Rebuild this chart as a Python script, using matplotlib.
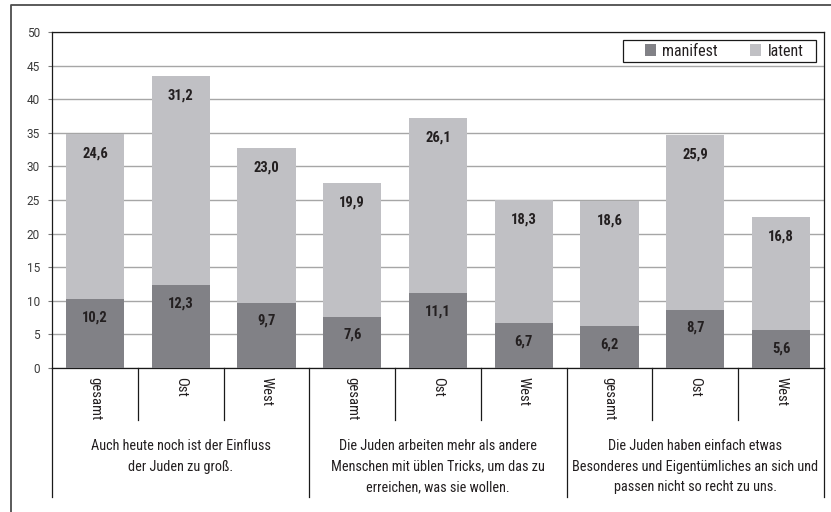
import numpy as np
import matplotlib
matplotlib.use("Agg")
import matplotlib.pyplot as plt
from matplotlib import font_manager as fm
from matplotlib.lines import Line2D
from matplotlib.patches import Patch, Rectangle
import matplotlib.transforms as mtransforms

# ---------------- data ----------------
subcats = ["gesamt", "Ost", "West", "gesamt", "Ost", "West", "gesamt", "Ost", "West"]
groups = [
    "Auch heute noch ist der Einfluss\nder Juden zu groß.",
    "Die Juden arbeiten mehr als andere\nMenschen mit üblen Tricks, um das zu\nerreichen, was sie wollen.",
    "Die Juden haben einfach etwas\nBesonderes und Eigentümliches an sich und\npassen nicht so recht zu uns.",
]
manifest = [10.2, 12.3, 9.7, 7.6, 11.1, 6.7, 6.2, 8.7, 5.6]
latent = [24.6, 31.2, 23.0, 19.9, 26.1, 18.3, 18.6, 25.9, 16.8]
yticks = [0, 5, 10, 15, 20, 25, 30, 35, 40, 45, 50]

# ---------------- font ----------------
names = {f.name for f in fm.fontManager.ttflist}
family = None
for cand in ["Roboto Condensed", "Liberation Sans Narrow", "Open Sans Condensed",
             "Noto Sans Condensed", "DejaVu Sans Condensed"]:
    if cand in names:
        family = cand
        break
stretch = "normal"
if family is None:
    cond = [f for f in fm.fontManager.ttflist
            if ("Condensed" in f.name or "Narrow" in f.name)]
    if cond:
        family = cond[0].name
    else:
        family = "DejaVu Sans"
        stretch = "condensed"
plt.rcParams["font.family"] = [family, "DejaVu Sans"]
plt.rcParams["font.stretch"] = stretch
REG = ["Roboto", "DejaVu Sans"]

C_MAN = "#818186"
C_LAT = "#c0c0c4"
C_GRID = "#a6a6a6"
TXT = "#231f20"

fig = plt.figure(figsize=(8.31, 5.12), dpi=100)
W, H = 831, 512
L, R, T, B = 52, 824, 32, 368
ax = fig.add_axes([L / W, 1 - B / H, (R - L) / W, (B - T) / H])

x = np.arange(len(subcats))
bw = 0.68
ax.bar(x, manifest, bw, color=C_MAN, zorder=3, label="manifest")
ax.bar(x, latent, bw, bottom=manifest, color=C_LAT, zorder=3, label="latent")

ax.set_xlim(-0.5, len(subcats) - 0.5)
ax.set_ylim(0, 50)
ax.set_yticks(yticks)
ax.set_yticklabels([str(v) for v in yticks], fontsize=8.5, color="#3a3a3a",
                   family=REG, stretch="normal")
ax.set_xticks([])
ax.yaxis.grid(True, color=C_GRID, linewidth=1.0, zorder=0)
ax.set_axisbelow(True)
ax.tick_params(axis="y", length=3, width=0.8, color="#7a7a7a", pad=5.8)
for s in ax.spines.values():
    s.set_color("#1a1a1a")
    s.set_linewidth(0.9)

# value labels
for i in range(len(x)):
    ax.annotate(f"{manifest[i]:.1f}".replace(".", ","), (x[i], manifest[i]),
                xytext=(0, -13), textcoords="offset points", ha="center", va="center",
                fontsize=10.5, fontweight="bold", color=TXT, zorder=5)
    top = manifest[i] + latent[i]
    ax.annotate(f"{latent[i]:.1f}".replace(".", ","), (x[i], top),
                xytext=(0, -14), textcoords="offset points", ha="center", va="center",
                fontsize=10.5, fontweight="bold", color=TXT, zorder=5)

# category axis
trans = mtransforms.blended_transform_factory(ax.transData, ax.transAxes)
ah = B - T
y_sub = -(420 - B) / ah
y_grp = -(497 - B) / ah
for k in range(len(subcats) + 1):
    xe = k - 0.5
    y1 = y_grp if k % 3 == 0 else y_sub
    ax.add_line(Line2D([xe, xe], [0, y1], transform=trans, color="#1a1a1a",
                       linewidth=0.9, clip_on=False))
for i, s in enumerate(subcats):
    ax.text(x[i], -(377 - B) / ah, s, transform=trans, rotation=-90,
            ha="center", va="top", fontsize=10.5, color=TXT)
for g, label in enumerate(groups):
    ax.text(3 * g + 1, -(439 - B) / ah, label, transform=trans, ha="center",
            va="top", fontsize=10.3, color=TXT, linespacing=1.6,
            multialignment="center")

# legend (manual frame)
def px2ax(px, py):
    return ((px - L) / (R - L), 1 - (py - T) / ah)

x0, y0 = px2ax(623, 62)
x1, y1 = px2ax(816, 40)
ax.add_patch(Rectangle((x0, y0), x1 - x0, y1 - y0, transform=ax.transAxes,
                       facecolor="white", edgecolor="#1a1a1a", linewidth=0.9,
                       zorder=6))
handles = [Patch(facecolor=C_MAN, edgecolor="none"), Patch(facecolor=C_LAT, edgecolor="none")]
leg = ax.legend(handles, ["manifest", "latent"], ncol=2, loc="center",
                bbox_to_anchor=((x0 + x1) / 2 + 0.006, (y0 + y1) / 2),
                borderaxespad=0, frameon=False, fontsize=11.5,
                handlelength=0.7, handleheight=0.7, handletextpad=0.4,
                columnspacing=2.0, borderpad=0.0)
leg.set_zorder(7)
for t in leg.get_texts():
    t.set_color(TXT)

# outer frame
fig.add_artist(Line2D([11 / W, 11 / W, 1.0], [0, 1 - 5 / H, 1 - 5 / H],
                      transform=fig.transFigure, color="#4d4d4d", linewidth=1.3))

fig.savefig("out.png", dpi=100)
